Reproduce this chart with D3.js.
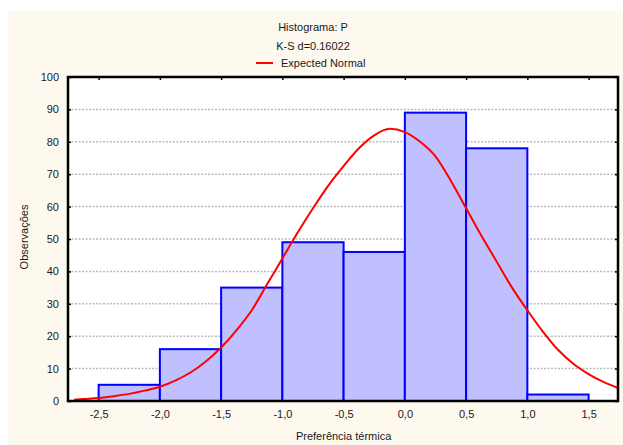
<!DOCTYPE html>
<html>
<head>
<meta charset="utf-8">
<script src="https://cdn.jsdelivr.net/npm/d3@7"></script>
<style>
  body { margin: 0; background: #ffffff; }
  text { font-family: "Liberation Sans", Arial, sans-serif; fill: #1a1a1a; }
</style>
</head>
<body>
<div id="chart"></div>
<script>
// histogram bins (lower edge, upper edge, count)
var binLow = [-2.5, -2.0, -1.5, -1.0, -0.5, 0.0, 0.5, 1.0];
var binHigh = [-2.0, -1.5, -1.0, -0.5, 0.0, 0.5, 1.0, 1.5];
var counts = [5, 16, 35, 49, 46, 89, 78, 2];

// expected normal curve
var curveX = [-2.7, -2.625, -2.5, -2.375, -2.25, -2.125, -2.0, -1.875, -1.75, -1.625, -1.5, -1.375, -1.25, -1.125, -1.0,
    -0.875, -0.75, -0.625, -0.5, -0.375, -0.25, -0.125, 0.0, 0.125, 0.25, 0.375, 0.5, 0.625, 0.75, 0.875, 1.0,
    1.125, 1.25, 1.375, 1.5, 1.625, 1.74];
var curveY = [0.4, 0.6, 0.9, 1.5, 2.2, 3.2, 4.4, 6.3, 8.8, 12.2, 16.5, 21.8, 28, 36, 44,
    52, 59.5, 66.5, 72.5, 78, 82, 84, 83, 80, 75.5, 68, 59.5, 51, 43, 35, 28,
    21.5, 15.8, 11.5, 8.3, 5.8, 4.0];

var xTicks = [-2.5, -2.0, -1.5, -1.0, -0.5, 0.0, 0.5, 1.0, 1.5];
var yTicks = [0, 10, 20, 30, 40, 50, 60, 70, 80, 90, 100];

var titleLines = ["Histograma: P", "K-S d=0.16022"];
var legendLabel = "Expected Normal";
var xTitle = "Preferência térmica";
var yTitle = "Observações";

var W = 623, H = 445;
var plot = {left: 68, right: 618, top: 77, bottom: 401};

var svg = d3.select("#chart").append("svg")
    .attr("width", W)
    .attr("height", H);

// cream panel
svg.append("rect")
    .attr("x", 8).attr("y", 11)
    .attr("width", W - 8).attr("height", H - 11)
    .attr("fill", "#fdf9ef");

svg.append("rect")
    .attr("x", plot.left).attr("y", plot.top)
    .attr("width", plot.right - plot.left).attr("height", plot.bottom - plot.top)
    .attr("fill", "#ffffff");

var x = d3.scaleLinear().domain([-2.75, 1.74]).range([plot.left, plot.right]);
var y = d3.scaleLinear().domain([0, 100]).range([plot.bottom, plot.top]);

var loc = d3.formatLocale({decimal: ",", thousands: ".", grouping: [3], currency: ["", ""], minus: "-"});
var fmt = loc.format(".1f");

// grid
svg.append("g").selectAll("line")
    .data(yTicks.filter(function(d) { return d > 0 && d < 100; }))
    .enter().append("line")
    .attr("x1", plot.left).attr("x2", plot.right)
    .attr("y1", function(d) { return y(d); })
    .attr("y2", function(d) { return y(d); })
    .attr("stroke", "#bcbcbc")
    .attr("stroke-width", 1.5)
    .attr("stroke-dasharray", "2,1.5");

// bars
var data = counts.map(function(c, i) { return {lo: binLow[i], hi: binHigh[i], n: c}; });
svg.append("g").selectAll("rect")
    .data(data)
    .enter().append("rect")
    .attr("x", function(d) { return x(d.lo); })
    .attr("y", function(d) { return y(d.n); })
    .attr("width", function(d) { return x(d.hi) - x(d.lo); })
    .attr("height", function(d) { return y(0) - y(d.n); })
    .attr("fill", "#c0c0ff")
    .attr("stroke", "#0000ff")
    .attr("stroke-width", 2);

// normal curve
var line = d3.line()
    .x(function(d, i) { return x(curveX[i]); })
    .y(function(d) { return y(d); })
    .curve(d3.curveMonotoneX);

svg.append("path")
    .datum(curveY)
    .attr("fill", "none")
    .attr("stroke", "#ff0000")
    .attr("stroke-width", 2)
    .attr("d", line);

// axes
var yAxis = d3.axisLeft(y).tickValues(yTicks).tickSize(-3).tickPadding(9);
var gy = svg.append("g")
    .attr("transform", "translate(" + plot.left + ",0)")
    .call(yAxis);
gy.select(".domain").remove();
gy.selectAll("text").style("font-size", "11px").attr("fill", "#1a1a1a");
gy.selectAll(".tick line").attr("stroke", "#000").attr("stroke-width", 1.5);

var yAxisR = d3.axisRight(y).tickValues(yTicks).tickSize(-3).tickFormat("");
var gyr = svg.append("g")
    .attr("transform", "translate(" + plot.right + ",0)")
    .call(yAxisR);
gyr.select(".domain").remove();
gyr.selectAll(".tick line").attr("stroke", "#000").attr("stroke-width", 1.5);

var xAxis = d3.axisBottom(x).tickValues(xTicks).tickSize(0).tickPadding(9).tickFormat(fmt);
var gx = svg.append("g")
    .attr("transform", "translate(0," + plot.bottom + ")")
    .call(xAxis);
gx.select(".domain").remove();
gx.selectAll("text").style("font-size", "11px").attr("fill", "#1a1a1a");

var xAxisT = d3.axisTop(x).tickValues(xTicks).tickSize(-3).tickFormat("");
var gxt = svg.append("g")
    .attr("transform", "translate(0," + plot.top + ")")
    .call(xAxisT);
gxt.select(".domain").remove();
gxt.selectAll(".tick line").attr("stroke", "#000").attr("stroke-width", 1.5);

// frame
svg.append("rect")
    .attr("x", plot.left).attr("y", plot.top)
    .attr("width", plot.right - plot.left).attr("height", plot.bottom - plot.top)
    .attr("fill", "none")
    .attr("stroke", "#000")
    .attr("stroke-width", 2.5);

// titles
svg.selectAll(".title")
    .data(titleLines)
    .enter().append("text")
    .attr("class", "title")
    .attr("x", 313)
    .attr("y", function(d, i) { return 31 + i * 19; })
    .attr("text-anchor", "middle")
    .style("font-size", "11px")
    .text(function(d) { return d; });

svg.append("line")
    .attr("x1", 256).attr("x2", 273)
    .attr("y1", 63).attr("y2", 63)
    .attr("stroke", "#ff0000")
    .attr("stroke-width", 2);

svg.append("text")
    .attr("x", 281).attr("y", 67)
    .style("font-size", "11px")
    .text(legendLabel);

svg.append("text")
    .attr("x", x(-0.5))
    .attr("y", 440)
    .attr("text-anchor", "middle")
    .style("font-size", "11px")
    .text(xTitle);

svg.append("text")
    .attr("transform", "translate(28,237) rotate(-90)")
    .attr("text-anchor", "middle")
    .style("font-size", "11px")
    .text(yTitle);
</script>
</body>
</html>
